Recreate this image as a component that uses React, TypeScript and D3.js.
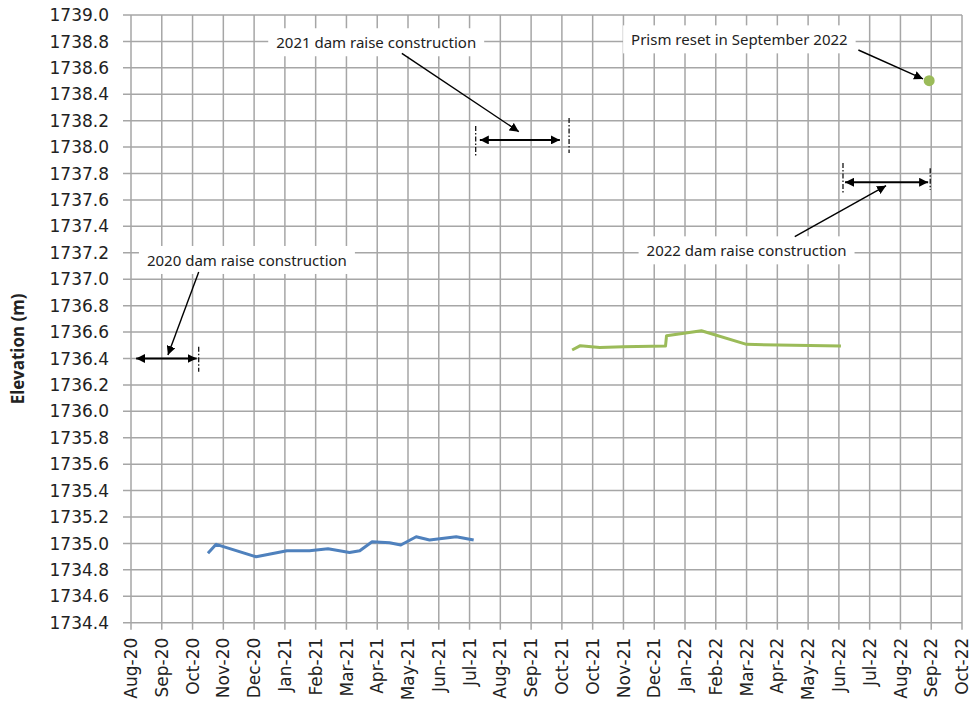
import React, { useEffect, useRef } from "react";
import * as d3 from "d3";

const W = 972;
const H = 708;

const blueDates = [
  "2020-10-21", "2020-10-29", "2020-12-07", "2021-01-06", "2021-01-28",
  "2021-02-15", "2021-03-08", "2021-03-18", "2021-03-30", "2021-04-16",
  "2021-04-27", "2021-05-12", "2021-05-25", "2021-06-20", "2021-07-07",
];
const blueValues = [
  1734.925, 1734.993, 1734.899, 1734.945, 1734.945,
  1734.96, 1734.932, 1734.945, 1735.013, 1735.005,
  1734.988, 1735.051, 1735.026, 1735.051, 1735.026,
];

const greenDates = [
  "2021-10-11", "2021-10-19", "2021-11-07", "2021-11-30", "2022-01-10",
  "2022-01-11", "2022-02-14", "2022-03-30", "2022-06-30",
];
const greenValues = [
  1736.464, 1736.497, 1736.484, 1736.489, 1736.494,
  1736.572, 1736.61, 1736.507, 1736.494,
];

const resetDate = "2022-09-24";
const resetValue = 1738.503;

const xStart = "2020-08-07";
const xEnd = "2022-10-26";
const xTickStepDays = 30;
const xTickCount = 28;

const yMin = 1734.4;
const yMax = 1739.0;
const yTickStep = 0.2;

const annotationLabels = [
  "2020 dam raise construction",
  "2021 dam raise construction",
  "2022 dam raise construction",
  "Prism reset in September 2022",
];
// label centre [date, value]
const labelAnchors: [string, number][] = [
  ["2020-11-28", 1737.14],
  ["2021-04-03", 1738.788],
  ["2022-03-30", 1737.213],
  ["2022-03-23", 1738.81],
];
// pointer arrows [fromDate, fromValue, toDate, toValue]
const pointerArrows: [string, number, string, number][] = [
  ["2020-10-12", 1737.055, "2020-09-12", 1736.426],
  ["2021-04-28", 1738.71, "2021-08-20", 1738.117],
  ["2022-05-16", 1737.322, "2022-08-13", 1737.708],
  ["2022-07-17", 1738.735, "2022-09-18", 1738.516],
];
// double arrows [fromDate, toDate, value]
const spanArrows: [string, string, number][] = [
  ["2020-08-12", "2020-10-10", 1736.4],
  ["2021-07-13", "2021-09-29", 1738.054],
  ["2022-07-04", "2022-09-23", 1737.734],
];
// dashed markers [date, valueTop, valueBottom]
const dashMarks: [string, number, number][] = [
  ["2020-10-12", 1736.489, 1736.3],
  ["2021-07-09", 1738.16, 1737.93],
  ["2021-10-08", 1738.22, 1737.955],
  ["2022-07-02", 1737.88, 1737.65],
  ["2022-09-25", 1737.84, 1737.675],
];

const parse = d3.timeParse("%Y-%m-%d");
const pd = (s: string) => parse(s) as Date;

export default function App() {
  const ref = useRef<SVGSVGElement>(null);

  useEffect(() => {
    const svg = d3.select(ref.current);
    svg.selectAll("*").remove();

    const left = 131, right = 962, top = 15, bottom = 622.7;
    const x = d3.scaleTime().domain([pd(xStart), pd(xEnd)]).range([left, right]);
    const y = d3.scaleLinear().domain([yMin, yMax]).range([bottom, top]);

    const xTicks = d3.range(xTickCount).map((i) => d3.timeDay.offset(pd(xStart), i * xTickStepDays));
    const nY = Math.round((yMax - yMin) / yTickStep);
    const yTicks = d3.range(nY + 1).map((i) => +(yMin + i * yTickStep).toFixed(1));
    const fmt = d3.timeFormat("%b-%y");

    const defs = svg.append("defs");
    defs.append("marker")
      .attr("id", "ah").attr("viewBox", "0 0 10 10").attr("refX", 10).attr("refY", 5)
      .attr("markerWidth", 9).attr("markerHeight", 9).attr("markerUnits", "userSpaceOnUse")
      .attr("orient", "auto-start-reverse")
      .append("path").attr("d", "M0,0 L10,5 L0,10 z").attr("fill", "#000");

    const grid = svg.append("g").attr("stroke", "#a6a6a6").attr("stroke-width", 1.5);
    grid.selectAll("line.h").data(yTicks).join("line")
      .attr("x1", left - 8).attr("x2", right).attr("y1", (d) => y(d)).attr("y2", (d) => y(d));
    grid.selectAll("line.v").data(xTicks).join("line")
      .attr("class", "v")
      .attr("x1", (d) => x(d)).attr("x2", (d) => x(d)).attr("y1", top).attr("y2", bottom + 7);

    svg.append("g").selectAll("text").data(yTicks).join("text")
      .attr("x", left - 22).attr("y", (d) => y(d)).attr("dy", "0.36em")
      .attr("text-anchor", "end").attr("font-family", "DejaVu Sans").attr("font-size", 17)
      .attr("fill", "#222").text((d) => d.toFixed(1));

    svg.append("g").selectAll("text").data(xTicks).join("text")
      .attr("transform", (d) => `translate(${x(d)},${bottom + 15}) rotate(-90)`)
      .attr("dy", "0.36em").attr("text-anchor", "end")
      .attr("font-family", "DejaVu Sans").attr("font-size", 17).attr("fill", "#222")
      .text((d) => fmt(d));

    svg.append("text")
      .attr("transform", `translate(24,${(top + bottom) / 2 + 30}) rotate(-90)`)
      .attr("text-anchor", "middle").attr("font-family", "Noto Sans").attr("font-weight", "bold")
      .attr("font-size", 17).attr("fill", "#222").text("Elevation (m)");

    // annotation labels with white boxes
    annotationLabels.forEach((label, i) => {
      const [dStr, v] = labelAnchors[i];
      const g = svg.append("g");
      const rect = g.append("rect").attr("fill", "#fff");
      const t = g.append("text")
        .attr("x", x(pd(dStr))).attr("y", y(v)).attr("dy", "0.35em")
        .attr("text-anchor", "middle").attr("font-family", "Noto Sans").attr("font-size", 15)
        .attr("fill", "#222").text(label);
      const bb = (t.node() as SVGTextElement).getBBox();
      rect.attr("x", bb.x - 8).attr("y", bb.y - 4).attr("width", bb.width + 16).attr("height", bb.height + 8);
    });

    const line = d3.line<[Date, number]>().x((d) => x(d[0])).y((d) => y(d[1]));
    svg.append("path")
      .attr("d", line(blueDates.map((d, i) => [pd(d), blueValues[i]])) as string)
      .attr("fill", "none").attr("stroke", "#4F81BD").attr("stroke-width", 3).attr("stroke-linejoin", "round");
    svg.append("path")
      .attr("d", line(greenDates.map((d, i) => [pd(d), greenValues[i]])) as string)
      .attr("fill", "none").attr("stroke", "#9BBB59").attr("stroke-width", 3).attr("stroke-linejoin", "round");
    svg.append("circle").attr("cx", x(pd(resetDate))).attr("cy", y(resetValue)).attr("r", 5.5).attr("fill", "#9BBB59");

    const ann = svg.append("g").attr("stroke", "#000").attr("stroke-width", 1.4);
    pointerArrows.forEach(([d1, v1, d2, v2]) => {
      ann.append("line").attr("x1", x(pd(d1))).attr("y1", y(v1)).attr("x2", x(pd(d2))).attr("y2", y(v2))
        .attr("marker-end", "url(#ah)");
    });
    spanArrows.forEach(([d1, d2, v]) => {
      ann.append("line").attr("x1", x(pd(d1))).attr("y1", y(v)).attr("x2", x(pd(d2))).attr("y2", y(v))
        .attr("stroke-width", 2)
        .attr("marker-start", "url(#ah)").attr("marker-end", "url(#ah)");
    });
    dashMarks.forEach(([d, v1, v2]) => {
      ann.append("line").attr("x1", x(pd(d))).attr("x2", x(pd(d))).attr("y1", y(v1)).attr("y2", y(v2))
        .attr("stroke-dasharray", "5,2,1.5,2").attr("stroke-width", 1.2);
    });
  }, []);

  return (
    <svg ref={ref} width={W} height={H}
      style={{ position: "absolute", left: 0, top: 0, background: "#fff" }} />
  );
}
